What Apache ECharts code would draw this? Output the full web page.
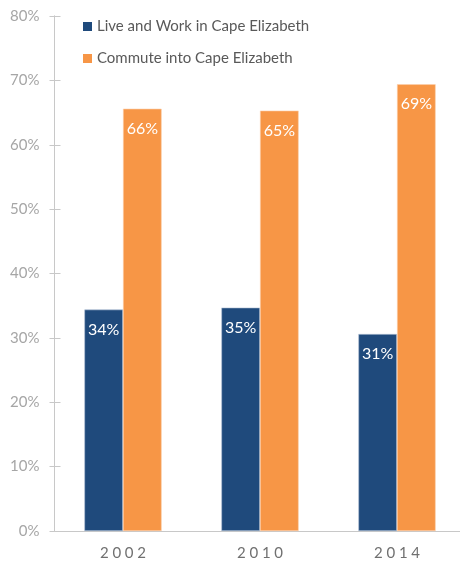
<!DOCTYPE html>
<html><head><meta charset="utf-8">
<script src="https://cdn.jsdelivr.net/npm/echarts@6/dist/echarts.min.js"></script>
<style>html,body{margin:0;padding:0;background:#fff;overflow:hidden;width:460px;height:562px}#c{width:480px;height:562px}</style>
</head><body><div id="c"></div>
<script>
var categories = ['2002', '2010', '2014'];
var liveWork = [34.4, 34.7, 30.6];
var commute = [65.6, 65.3, 69.4];
var seriesNames = ['Live and Work in Cape Elizabeth', 'Commute into Cape Elizabeth'];

var FONT = 'Lato';
var chart = echarts.init(document.getElementById('c'));
var yBase = {type: 'value', min: 0, max: 80, interval: 10, position: 'left',
  splitLine: {show: false}, axisLine: {show: true, lineStyle: {color: '#c8c8c8', width: 1}}};
var lbl = {show: true, position: 'insideTop', distance: 12, color: '#fff', fontFamily: FONT, fontSize: 16,
  formatter: function (p) { return Math.round(p.value) + '%'; }};
chart.setOption({
  animation: false,
  textStyle: {fontFamily: FONT},
  grid: {left: 54.5, top: 16, width: 411, height: 515, containLabel: false},
  legend: {orient: 'vertical', left: 78, top: 14, itemWidth: 9, itemHeight: 9, itemGap: 17, icon: 'rect',
    itemStyle: {borderWidth: 0},
    textStyle: {color: '#595959', fontSize: 15, fontFamily: FONT},
    data: seriesNames},
  xAxis: {type: 'category', data: categories,
    axisLine: {show: true, lineStyle: {color: '#c8c8c8'}}, axisTick: {show: false},
    axisLabel: {color: '#707070', fontSize: 15, fontFamily: FONT, margin: 15,
      formatter: function (v) { return v.split('').join('\u2005'); }}},
  yAxis: [
    Object.assign({}, yBase, {axisTick: {show: true, length: 5, lineStyle: {color: '#c8c8c8'}},
      axisLabel: {color: '#a6a6a6', fontSize: 15, fontFamily: FONT, margin: 15, formatter: '{value}%'}}),
    Object.assign({}, yBase, {axisTick: {show: true, inside: true, length: 6, lineStyle: {color: '#c8c8c8'}},
      axisLabel: {show: false}})
  ],
  series: [
    {name: seriesNames[0], type: 'bar', data: liveWork, barWidth: '28.2%', barGap: '0%',
      itemStyle: {color: '#1F4A7C', borderColor: '#b7c4d6', borderWidth: 0.6}, label: lbl},
    {name: seriesNames[1], type: 'bar', data: commute, barWidth: '28.2%', barGap: '0%',
      itemStyle: {color: '#F79646', borderColor: '#fbd0ae', borderWidth: 0.6}, label: lbl}
  ]
});
</script></body></html>
